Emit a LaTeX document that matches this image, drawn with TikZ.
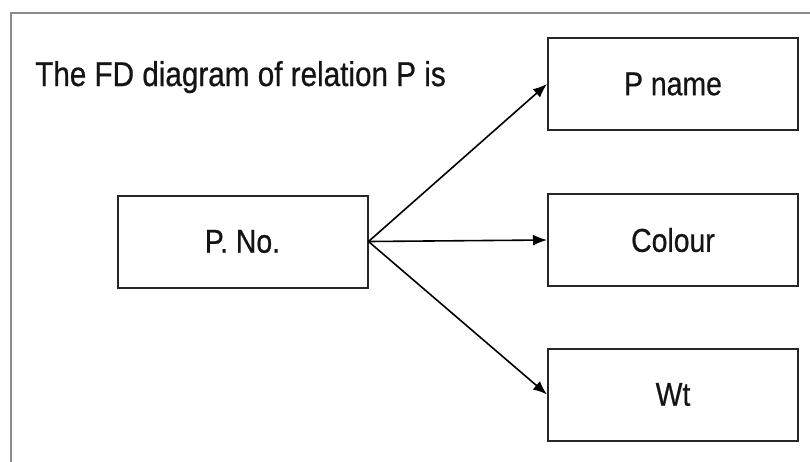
\documentclass[tikz,border=0pt]{standalone}
\usepackage{fontspec}
\setmainfont{Liberation Sans}[FakeStretch=0.86, FakeBold=0.6]
\usetikzlibrary{arrows.meta}
\tikzset{
  box/.style={draw=black!85, line width=2pt, minimum width=250pt, minimum height=92pt, inner sep=0pt, font=\fontsize{33}{35}\selectfont, text=black!92},
  conn/.style={line width=1.6pt, -{Latex[length=14pt,width=11pt]}},
}
\begin{document}
\begin{tikzpicture}[x=1pt,y=-1pt]
\useasboundingbox (0,0) rectangle (810,461);
\fill[white] (0,0) rectangle (810,461);
\draw[black!45, line width=1.8pt] (11,462) -- (11,12.7) -- (811,12.7);
\node[anchor=base west, inner sep=0pt, font=\fontsize{34.5}{36}\selectfont, text=black!92] (title) at (35,86) {The FD diagram of relation P is};
\node[box] (pno) at (242.5,241.5) {P. No.};
\node[box] (pname) at (673,84) {P name};
\node[box] (colour) at (673,240) {Colour};
\node[box] (wt) at (673,394.5) {Wt};
\coordinate (src) at (pno.east);
\draw[conn] (src) -- (pname.west);
\draw[conn] (src) -- (colour.west);
\draw[conn] (src) -- (wt.west);
\end{tikzpicture}
\end{document}
